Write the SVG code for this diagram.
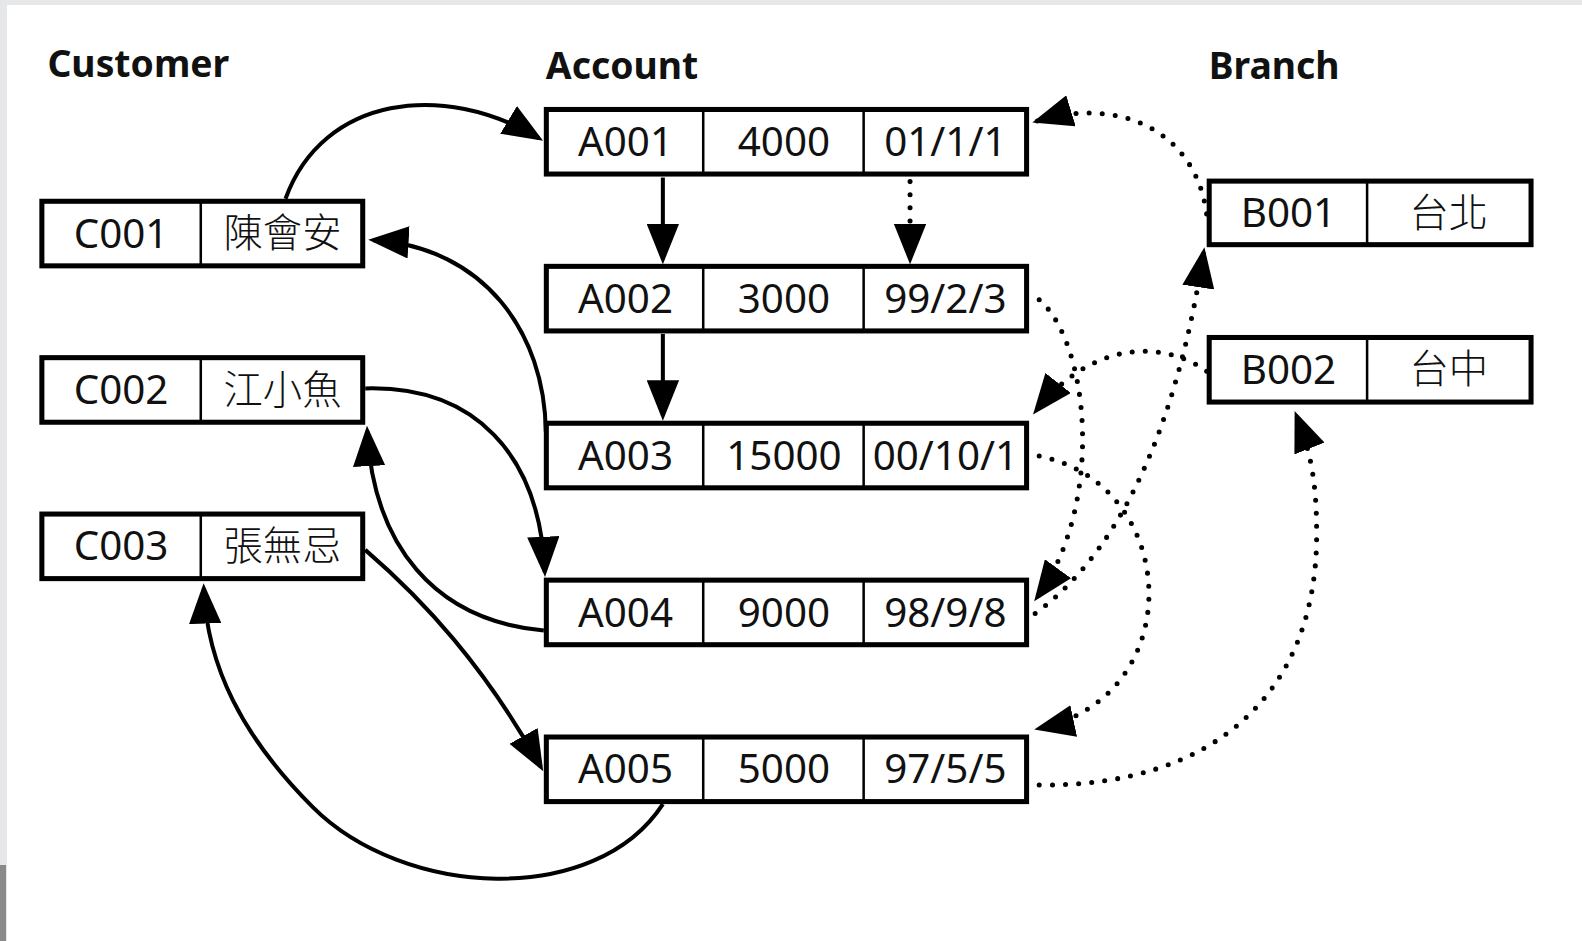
<svg xmlns="http://www.w3.org/2000/svg" width="1582" height="941" viewBox="0 0 1582 941">
<defs>
<marker id="arr" viewBox="0 0 40 32" refX="35" refY="16" markerWidth="40" markerHeight="32" markerUnits="userSpaceOnUse" orient="auto">
<path d="M0,0 L40,16 L0,32 z" fill="#000"/>
</marker>
</defs>
<style>
.box{fill:#fff;stroke:#000;stroke-width:5}
.div{stroke:#000;stroke-width:2.5}
.t{font-family:"Noto Sans","Noto Sans CJK TC",sans-serif;font-size:40px;text-anchor:middle;fill:#111}
.cjk{font-family:"Noto Sans CJK TC","Noto Sans",sans-serif;font-size:39px;text-anchor:middle;fill:#111;font-weight:300}
.h{font-family:"Noto Sans",sans-serif;font-size:37px;font-weight:bold;fill:#111}
.e{fill:none;stroke:#000;stroke-width:4;marker-end:url(#arr)}
.d{fill:none;stroke:#000;stroke-width:5;stroke-dasharray:0 13;stroke-linecap:round;marker-end:url(#arr)}
</style>
<rect x="0" y="0" width="1582" height="941" fill="#e6e7e8"/>
<rect x="7" y="5" width="1575" height="936" fill="#fff"/>
<rect x="0" y="865" width="6" height="76" fill="#8a8a8a"/>
<g transform="scale(1.00893)">
<g id="headers">
<text class="h" x="47" y="76">Customer</text>
<text class="h" x="541" y="78">Account</text>
<text class="h" x="1198" y="78">Branch</text>
</g>
<g id="C001"><rect class="box" x="41.5" y="199.5" width="318" height="64"/><line class="div" x1="199" y1="199" x2="199" y2="264"/><text class="t" x="120" y="245.5">C001</text><text class="cjk" x="280" y="245">陳會安</text></g>
<g id="C002"><rect class="box" x="41.5" y="354.5" width="318" height="64"/><line class="div" x1="199" y1="354" x2="199" y2="419"/><text class="t" x="120" y="400.5">C002</text><text class="cjk" x="280" y="400">江小魚</text></g>
<g id="C003"><rect class="box" x="41.5" y="509.5" width="318" height="64"/><line class="div" x1="199" y1="509" x2="199" y2="574"/><text class="t" x="120" y="555.5">C003</text><text class="cjk" x="280" y="555">張無忌</text></g>

<g id="A001"><rect class="box" x="541.5" y="108.5" width="476" height="64"/><line class="div" x1="697" y1="108" x2="697" y2="173"/><line class="div" x1="856" y1="108" x2="856" y2="173"/><text class="t" x="620" y="154.5">A001</text><text class="t" x="777" y="154.5">4000</text><text class="t" x="937" y="154.5">01/1/1</text></g>
<g id="A002"><rect class="box" x="541.5" y="264" width="476" height="64"/><line class="div" x1="697" y1="264" x2="697" y2="328"/><line class="div" x1="856" y1="264" x2="856" y2="328"/><text class="t" x="620" y="310">A002</text><text class="t" x="777" y="310">3000</text><text class="t" x="937" y="310">99/2/3</text></g>
<g id="A003"><rect class="box" x="541.5" y="419.5" width="476" height="64"/><line class="div" x1="697" y1="419" x2="697" y2="484"/><line class="div" x1="856" y1="419" x2="856" y2="484"/><text class="t" x="620" y="465.5">A003</text><text class="t" x="777" y="465.5">15000</text><text class="t" x="937" y="465.5">00/10/1</text></g>
<g id="A004"><rect class="box" x="541.5" y="575" width="476" height="64"/><line class="div" x1="697" y1="575" x2="697" y2="639"/><line class="div" x1="856" y1="575" x2="856" y2="639"/><text class="t" x="620" y="621">A004</text><text class="t" x="777" y="621">9000</text><text class="t" x="937" y="621">98/9/8</text></g>
<g id="A005"><rect class="box" x="541.5" y="730.5" width="476" height="64"/><line class="div" x1="697" y1="730" x2="697" y2="795"/><line class="div" x1="856" y1="730" x2="856" y2="795"/><text class="t" x="620" y="776.5">A005</text><text class="t" x="777" y="776.5">5000</text><text class="t" x="937" y="776.5">97/5/5</text></g>

<g id="B001"><rect class="box" x="1198.5" y="179.5" width="319" height="63"/><line class="div" x1="1355" y1="179" x2="1355" y2="243"/><text class="t" x="1277" y="225">B001</text><text class="cjk" x="1436" y="224.5">台北</text></g>
<g id="B002"><rect class="box" x="1198.5" y="334.5" width="319" height="64"/><line class="div" x1="1355" y1="334" x2="1355" y2="399"/><text class="t" x="1277" y="380.5">B002</text><text class="cjk" x="1436" y="380">台中</text></g>

<g id="connectors">
<path class="e" d="M283,197 C320,95 440,80 534,137"/>
<path class="e" d="M657,176 L657,257"/>
<path class="e" d="M657,331 L657,412"/>
<path class="e" d="M541,428 C540,330 480,245 370,238"/>
<path class="e" d="M362,385 C470,382 535,450 540,567"/>
<path class="e" d="M539,625 C430,615 370,540 364,427"/>
<path class="e" d="M362,545 C420,595 480,660 536,760"/>
<path class="e" d="M657,797 C590,900 400,890 310,800 C240,730 205,660 202,583"/>
<path class="d" d="M902,180 L902,257"/>
<path class="d" d="M1196,212 C1185,130 1110,95 1028,120"/>
<path class="d" d="M1030,297 C1080,340 1095,500 1028,592"/>
<path class="d" d="M1196,368 C1150,335 1080,340 1027,407"/>
<path class="d" d="M1026,608 C1120,540 1170,400 1193,250"/>
<path class="d" d="M1030,452 C1170,480 1180,690 1030,722"/>
<path class="d" d="M1030,778 C1200,780 1305,690 1305,530 C1305,480 1300,450 1285,412"/>
</g>
</g>
</svg>
